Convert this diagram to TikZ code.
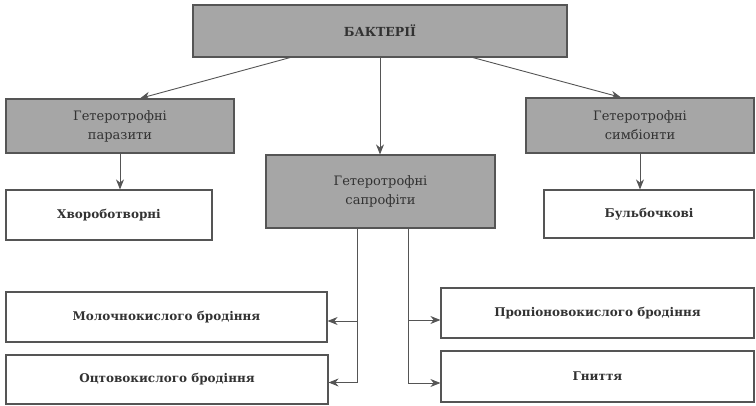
\documentclass[tikz,border=0pt]{standalone}
\usepackage{fontspec}
\setmainfont{DejaVu Serif}
\usetikzlibrary{arrows.meta}
\definecolor{boxfill}{RGB}{166,166,166}
\definecolor{linecol}{RGB}{85,85,85}
\definecolor{txtcol}{RGB}{50,50,50}
\tikzset{
  grbox/.style={draw=linecol, line width=1.2pt, fill=boxfill, text=txtcol, align=center, font=\fontsize{13}{19}\selectfont},
  whbox/.style={draw=linecol, line width=1.2pt, fill=white, text=txtcol, align=center, font=\fontsize{12}{16}\selectfont\bfseries},
  arr/.style={draw=linecol, line width=0.9pt, -{Stealth[length=10pt,width=8pt]}}
}
\begin{document}
\begin{tikzpicture}[x=1pt, y=-1pt]
\useasboundingbox (0,0) rectangle (756,406);

% Верхній блок
\node[grbox, minimum width=374pt, minimum height=52pt, font=\fontsize{12.5}{16}\selectfont\bfseries] (bact) at (380,31) {БАКТЕРІЇ};

% Другий рівень
\node[grbox, minimum width=228pt, minimum height=54pt] (paras) at (120,126) {Гетеротрофні\\паразити};
\node[grbox, minimum width=229pt, minimum height=73pt] (sapr) at (380.5,191.5) {Гетеротрофні\\сапрофіти};
\node[grbox, minimum width=228pt, minimum height=55pt] (symb) at (640,125.5) {Гетеротрофні\\симбіонти};

% Третій рівень
\node[whbox, minimum width=206pt, minimum height=50pt] (hvor) at (109,215) {Хвороботворні};
\node[whbox, minimum width=210pt, minimum height=48pt] (bulb) at (649,214) {Бульбочкові};

% Сапрофіти
\node[whbox, minimum width=321pt, minimum height=50pt] (mol) at (166.5,317) {Молочнокислого бродіння};
\node[whbox, minimum width=322pt, minimum height=49pt] (oct) at (167,379.5) {Оцтовокислого бродіння};
\node[whbox, minimum width=313pt, minimum height=50pt] (prop) at (597.5,313) {Пропіоновокислого бродіння};
\node[whbox, minimum width=313pt, minimum height=51pt] (gnyt) at (597.5,376.5) {Гниття};

% Стрілки від бактерій
\draw[arr] ([xshift=-90pt]bact.south) -- ([xshift=20pt]paras.north);
\draw[arr] (bact.south) -- (bact.south |- sapr.north);
\draw[arr] ([xshift=93pt]bact.south) -- ([xshift=-19pt]symb.north);

% Стрілки вниз
\draw[arr] (paras.south) -- (paras.south |- hvor.north);
\draw[arr] (symb.south) -- (symb.south |- bulb.north);

% Розгалуження від сапрофітів
\coordinate (sl) at ([xshift=-23.5pt]sapr.south);
\coordinate (sr) at ([xshift=27.5pt]sapr.south);
\draw[arr] (sl) |- ([yshift=-3pt]oct.east);
\draw[arr] (sl |- mol.east) ++(0,4) -- ([yshift=-4pt]mol.east);
\draw[arr] (sr) |- ([yshift=-6.5pt]gnyt.west);
\draw[arr] (sr |- prop.west) ++(0,7) -- ([yshift=-7pt]prop.west);
\end{tikzpicture}
\end{document}
